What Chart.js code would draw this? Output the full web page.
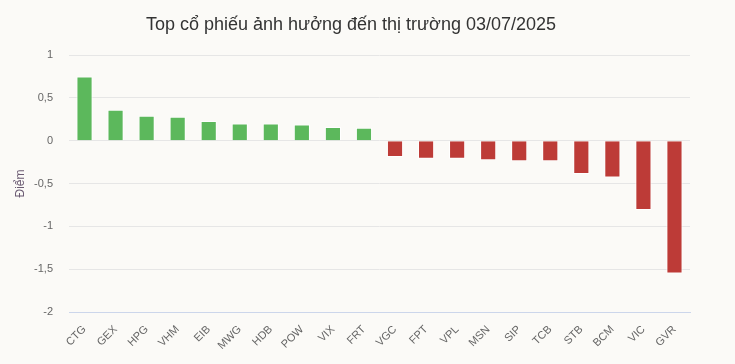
<!DOCTYPE html>
<html>
<head>
<meta charset="utf-8">
<script src="https://cdn.jsdelivr.net/npm/chart.js@4/dist/chart.umd.min.js"></script>
<style>
html,body{margin:0;padding:0;background:#fbfaf7;}
#wrap{width:735px;height:364px;}
</style>
</head>
<body>
<div id="wrap"><canvas id="c" width="735" height="364"></canvas></div>
<script>
const categories = ["CTG","GEX","HPG","VHM","EIB","MWG","HDB","POW","VIX","FRT","VGC","FPT","VPL","MSN","SIP","TCB","STB","BCM","VIC","GVR"];
const values = [0.75,0.36,0.29,0.28,0.23,0.20,0.20,0.19,0.16,0.15,-0.19,-0.21,-0.21,-0.23,-0.24,-0.24,-0.39,-0.43,-0.81,-1.55];
const yTicks = [-2,-1.5,-1,-0.5,0,0.5,1];
const titleText = "Top cổ phiếu ảnh hưởng đến thị trường 03/07/2025";
const yTitle = "Điểm";

const bgPlugin = {
  id:'bg',
  beforeDraw(chart){
    const ctx = chart.ctx;
    ctx.save();
    ctx.fillStyle = '#fbfaf7';
    ctx.fillRect(0,0,chart.width,chart.height);
    ctx.restore();
  },
  afterDraw(chart){
    const ctx = chart.ctx;
    ctx.save();
    ctx.fillStyle = '#333333';
    ctx.font = '18px "Liberation Sans", Arial, sans-serif';
    ctx.textAlign = 'center';
    ctx.textBaseline = 'middle';
    ctx.fillText(titleText, 351, 25);
    ctx.restore();
  }
};

new Chart(document.getElementById('c'), {
  type:'bar',
  data:{
    labels:categories,
    datasets:[{
      data:values,
      backgroundColor: values.map(v => v >= 0 ? '#5cb85c' : '#bd3b37'),
      borderColor:'#ffffff',
      borderWidth:1,
      categoryPercentage:1,
      barPercentage:0.52
    }]
  },
  options:{
    responsive:false,
    animation:false,
    devicePixelRatio:1,
    layout:{padding:{left:0,right:45,top:55,bottom:0}},
    plugins:{
      legend:{display:false},
      tooltip:{enabled:false},
      title:{display:false}
    },
    scales:{
      x:{
        grid:{display:false},
        border:{display:true,color:'#ccd6eb'},
        ticks:{
          color:'#666666',
          font:{family:'"Liberation Sans", Arial, sans-serif',size:11},
          maxRotation:45,minRotation:45,
          autoSkip:false,
          padding:3
        },
        afterFit(s){ s.height = 52; }
      },
      y:{
        min:-2,max:1,
        afterBuildTicks(s){ s.ticks = yTicks.map(v=>({value:v})); },
        grid:{
          color: c => c.tick && c.tick.value === -2 ? '#ccd6eb' : '#e6e6e6',
          drawTicks:false
        },
        border:{display:false},
        ticks:{
          color:'#666666',
          font:{family:'"Liberation Sans", Arial, sans-serif',size:11},
          padding:16,
          callback: v => String(v).replace('.', ',')
        },
        title:{
          display:true,
          text:yTitle,
          color:'#6b5b73',
          font:{family:'"Liberation Sans", Arial, sans-serif',size:12},
          padding:{top:13,bottom:0}
        },
        afterFit(s){ s.width = 69; }
      }
    }
  },
  plugins:[bgPlugin]
});
</script>
</body>
</html>
